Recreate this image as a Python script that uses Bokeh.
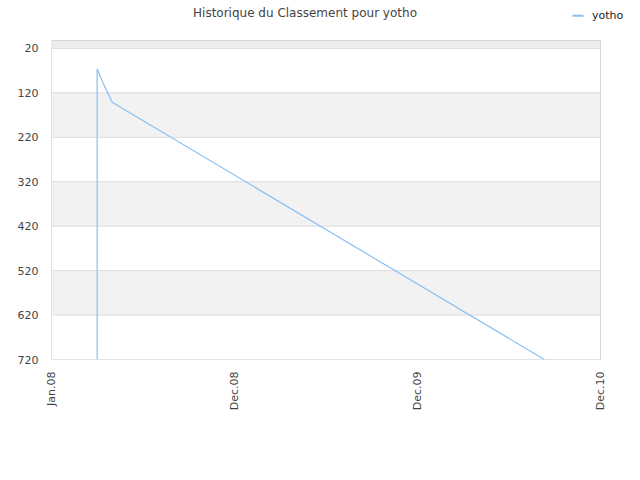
from datetime import datetime
from bokeh.plotting import figure
from bokeh.models import Range1d, FixedTicker, BoxAnnotation, Label
from bokeh.embed import file_html
from bokeh.resources import INLINE

# ---- data ----
title_text = "Historique du Classement pour yotho"
series_name = "yotho"
dates = [datetime(2008, 4, 1), datetime(2008, 4, 1), datetime(2008, 4, 15),
         datetime(2008, 5, 1), datetime(2010, 9, 10)]
ranks = [720, 66, 103, 141, 720]
y_ticks = [20, 120, 220, 320, 420, 520, 620, 720]
x_tick_dates = [datetime(2008, 1, 1), datetime(2008, 12, 31),
                datetime(2009, 12, 31), datetime(2010, 12, 31)]
x_tick_labels = ["Jan.08", "Dec.08", "Dec.09", "Dec.10"]
y_top = 2

# ---- layout / style ----
FONT = "DejaVu Sans"
LINE_COLOR = "#88bff5"
LEFT, PLOT_W, TOP, PLOT_H, RIGHT_PAD, BOTTOM = 51, 549, 40, 319, 32, 113


def ms(d):
    return (d - datetime(1970, 1, 1)).total_seconds() * 1000.0


x0, x1 = ms(x_tick_dates[0]), ms(x_tick_dates[-1])
x_per_px = (x1 - x0) / PLOT_W
y_per_px = (y_ticks[-1] - y_top) / PLOT_H

# frame extended over the top/right margins so texts placed there are not clipped
p = figure(width=LEFT + PLOT_W + RIGHT_PAD, height=TOP + PLOT_H + BOTTOM,
           output_backend="svg", toolbar_location=None, x_axis_type="datetime",
           x_range=Range1d(x0, x1 + RIGHT_PAD * x_per_px),
           y_range=Range1d(y_ticks[-1], y_top - TOP * y_per_px),
           min_border_left=LEFT, min_border_right=0, min_border_top=0,
           min_border_bottom=BOTTOM)
p.title = None
p.outline_line_color = None
p.background_fill_color = "white"
p.border_fill_color = "white"
p.xgrid.grid_line_color = None
p.ygrid.grid_line_color = None

# plot-area bands and grid lines
p.add_layout(BoxAnnotation(left=x0, right=x1, top=y_top, bottom=y_ticks[0],
                           fill_color="#ececec", fill_alpha=1, line_alpha=0, level="underlay"))
for i in range(len(y_ticks) - 1):
    p.add_layout(BoxAnnotation(left=x0, right=x1, top=y_ticks[i], bottom=y_ticks[i + 1],
                               fill_color="#f2f2f2" if i % 2 == 1 else "white", fill_alpha=1,
                               line_color="#e0e0e0", line_alpha=1, line_width=1,
                               level="underlay"))
p.add_layout(BoxAnnotation(left=x0, right=x1, top=y_top, bottom=y_ticks[-1],
                           fill_alpha=0, line_color="#d6d6d6", line_alpha=1, line_width=1,
                           level="underlay"))

p.line(dates, ranks, line_color=LINE_COLOR, line_width=1.2)

# axes
p.yaxis.ticker = FixedTicker(ticks=y_ticks)
p.xaxis.ticker = FixedTicker(ticks=[ms(d) for d in x_tick_dates])
p.xaxis.major_label_overrides = {ms(d): lab for d, lab in zip(x_tick_dates, x_tick_labels)}
p.xaxis.major_label_orientation = 1.5708
for ax in (p.xaxis, p.yaxis):
    ax.axis_line_color = None
    ax.major_tick_line_color = None
    ax.minor_tick_line_color = None
    ax.major_label_text_font = FONT
    ax.major_label_text_font_size = "11px"
    ax.major_label_text_color = "#444444"
p.yaxis.major_label_standoff = 7
p.xaxis.major_label_standoff = 6

# title and legend (screen units: from frame's bottom-left, y upward)
fh = TOP + PLOT_H
p.add_layout(Label(x=304.5 - LEFT, y=fh - 12, x_units="screen", y_units="screen",
                   text=title_text, text_align="center", text_baseline="middle",
                   text_font=FONT, text_font_size="12px", text_color="#444444"))
p.add_layout(Label(x=591.5 - LEFT, y=fh - 14.5, x_units="screen", y_units="screen",
                   text=series_name, text_align="left", text_baseline="middle",
                   text_font=FONT, text_font_size="11px", text_color="#222222"))
p.add_layout(BoxAnnotation(left=572 - LEFT, right=583 - LEFT, bottom=fh - 16.3, top=fh - 14.3,
                           left_units="screen", right_units="screen",
                           bottom_units="screen", top_units="screen",
                           fill_color=LINE_COLOR, fill_alpha=1, line_alpha=0))

open("out.html", "w").write(file_html(p, INLINE))
